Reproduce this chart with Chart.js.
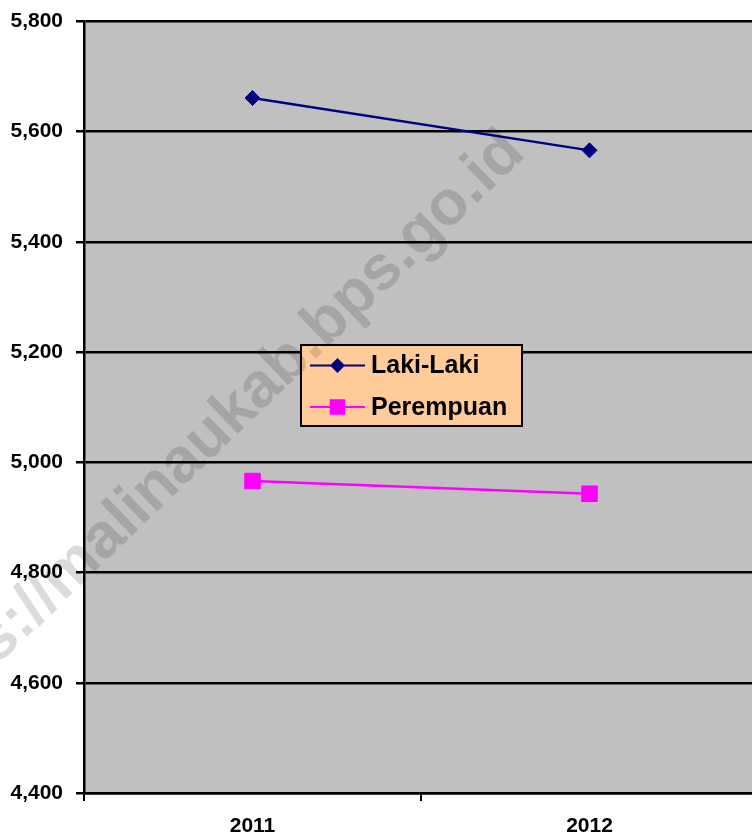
<!DOCTYPE html>
<html>
<head>
<meta charset="utf-8">
<script src="https://cdn.jsdelivr.net/npm/chart.js@4"></script>
<style>
  html, body { margin: 0; padding: 0; background: #fff; overflow: hidden; }
  #wrap { width: 752px; height: 838px; overflow: hidden; }
</style>
</head>
<body>
<div id="wrap"><canvas id="chart" width="770" height="838"></canvas></div>
<script>
const years = ['2011', '2012'];
const lakiLaki = [5661, 5566];
const perempuan = [4966, 4943];
const yTickValues = [4400, 4600, 4800, 5000, 5200, 5400, 5600, 5800];
const seriesNames = ['Laki-Laki', 'Perempuan'];
const watermarkText = 'https://malinaukab.bps.go.id';

const fontFamily = '"Liberation Sans", Arial, Helvetica, sans-serif';

// grey plot background like the old Excel charts
const plotBackground = {
    id: 'plotBackground',
    beforeDraw(chart) {
        const { ctx, chartArea } = chart;
        ctx.save();
        ctx.fillStyle = '#c0c0c0';
        ctx.fillRect(chartArea.left, chartArea.top, chartArea.right - chartArea.left, chartArea.bottom - chartArea.top);
        ctx.restore();
    },
};

function drawMarker(ctx, style, x, y, r, colour) {
    ctx.fillStyle = colour;
    ctx.beginPath();
    if (style === 'rectRot') {
        ctx.moveTo(x - r, y);
        ctx.lineTo(x, y - r);
        ctx.lineTo(x + r, y);
        ctx.lineTo(x, y + r);
        ctx.closePath();
    } else {
        const h = r * Math.SQRT1_2;
        ctx.rect(x - h, y - h, 2 * h, 2 * h);
    }
    ctx.fill();
}

// legend box sitting inside the plot
const boxLegend = {
    id: 'boxLegend',
    afterDatasetsDraw(chart) {
        const ctx = chart.ctx;
        const box = { x: 301, y: 345, w: 221, h: 81 };
        ctx.save();
        ctx.fillStyle = '#ffcc99';
        ctx.fillRect(box.x, box.y, box.w, box.h);
        ctx.strokeStyle = '#000';
        ctx.lineWidth = 2;
        ctx.strokeRect(box.x, box.y, box.w, box.h);

        ctx.font = `bold 25px ${fontFamily}`;
        ctx.textBaseline = 'middle';
        chart.data.datasets.forEach((ds, i) => {
            const rowY = box.y + 20.5 + i * 41.5;
            ctx.strokeStyle = ds.borderColor;
            ctx.lineWidth = 2;
            ctx.beginPath();
            ctx.moveTo(box.x + 9, rowY);
            ctx.lineTo(box.x + 64, rowY);
            ctx.stroke();
            drawMarker(ctx, ds.pointStyle, box.x + 36.5, rowY, ds.pointRadius, ds.pointBackgroundColor);
            ctx.fillStyle = '#000';
            ctx.fillText(ds.label, box.x + 70, rowY + 1);
        });
        ctx.restore();
    },
};

const watermark = {
    id: 'watermark',
    afterDraw(chart) {
        const ctx = chart.ctx;
        ctx.save();
        ctx.font = `bold 63px ${fontFamily}`;
        const angle = Math.atan2(140 - 583, 515 - 55);
        const prefix = ctx.measureText('https://').width;
        const dx = Math.cos(angle), dy = Math.sin(angle);
        const cx = 283 - dx * prefix / 2;
        const cy = 366 - dy * prefix / 2;
        ctx.translate(cx, cy);
        ctx.rotate(angle);
        ctx.textAlign = 'center';
        ctx.textBaseline = 'middle';
        ctx.fillStyle = 'rgba(0,0,0,0.14)';
        ctx.fillText(watermarkText, 0, 0);
        ctx.restore();
    },
};

const ctx = document.getElementById('chart').getContext('2d');
new Chart(ctx, {
    type: 'line',
    data: {
        labels: years,
        datasets: [{
            label: seriesNames[0],
            data: lakiLaki,
            borderColor: '#000080',
            backgroundColor: '#000080',
            pointBackgroundColor: '#000080',
            pointBorderColor: '#000080',
            borderWidth: 2.5,
            pointStyle: 'rectRot',
            pointRadius: 7.5,
            pointHoverRadius: 7.5,
            pointBorderWidth: 1,
            tension: 0,
        }, {
            label: seriesNames[1],
            data: perempuan,
            borderColor: '#ff00ff',
            backgroundColor: '#ff00ff',
            pointBackgroundColor: '#ff00ff',
            pointBorderColor: '#ff00ff',
            borderWidth: 2.5,
            pointStyle: 'rect',
            pointRadius: 11,
            pointHoverRadius: 11,
            pointBorderWidth: 1,
            tension: 0,
        }],
    },
    options: {
        responsive: false,
        animation: false,
        devicePixelRatio: 1,
        layout: {
            padding: { top: 20, right: 12, left: 0, bottom: 0 },
        },
        plugins: {
            legend: { display: false },
            tooltip: { enabled: false },
        },
        scales: {
            x: {
                offset: true,
                grid: {
                    offset: true,
                    drawOnChartArea: false,
                    drawTicks: true,
                    tickLength: 8,
                    tickColor: '#000',
                    lineWidth: 2,
                },
                border: { color: '#000', width: 2.5 },
                ticks: {
                    color: '#000',
                    padding: 13,
                    font: { family: fontFamily, size: 21, weight: 'bold' },
                },
                afterFit(scale) {
                    scale.height = 45;
                },
            },
            y: {
                min: yTickValues[0],
                max: yTickValues[yTickValues.length - 1],
                afterBuildTicks(scale) {
                    scale.ticks = yTickValues.map((v) => ({ value: v }));
                },
                grid: {
                    color: '#000',
                    lineWidth: 2.5,
                    drawTicks: true,
                    tickLength: 8,
                    tickColor: '#000',
                },
                border: { color: '#000', width: 2.5 },
                ticks: {
                    color: '#000',
                    padding: 13,
                    font: { family: fontFamily, size: 21, weight: 'bold', lineHeight: 0.8 },
                    callback: (v) => v.toLocaleString('en-US'),
                },
                afterFit(scale) {
                    scale.width = 84;
                },
            },
        },
    },
    plugins: [plotBackground, boxLegend, watermark],
});
</script>
</body>
</html>
